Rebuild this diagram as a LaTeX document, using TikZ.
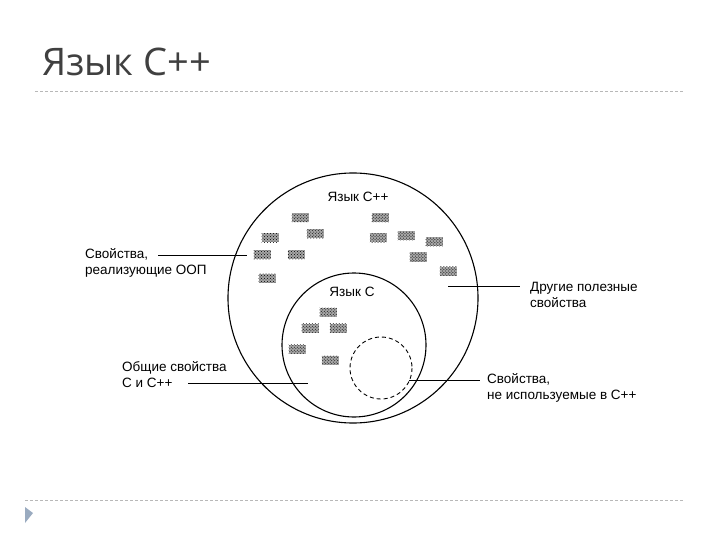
\documentclass[tikz,border=0pt]{standalone}
\usepackage{fontspec}
\setmainfont{Liberation Sans}
\newfontfamily\titlefont{Open Sans}
\usetikzlibrary{patterns}
\definecolor{titlegray}{HTML}{404040}
\definecolor{rulegray}{HTML}{B8B8B8}
\definecolor{markblue}{HTML}{9AABC0}
\tikzset{
  lbl/.style={align=left, anchor=west, font=\fontsize{13.5bp}{16bp}\selectfont, inner sep=0pt},
  ring/.style={draw=black, line width=1.1bp},
  leader/.style={draw=black, line width=0.9bp},
  patch/.style={preaction={fill=black!35}, pattern=crosshatch dots, pattern color=black, minimum width=17bp, minimum height=9bp, inner sep=0pt},
  rulestyle/.style={draw=rulegray, line width=0.8bp, dash pattern=on 3bp off 2bp}
}
\begin{document}
\begin{tikzpicture}[x=1bp,y=-1bp]
\useasboundingbox (0,0) rectangle (720,540);
% title and rules
\node[anchor=base west, inner sep=0pt, text=titlegray, font=\titlefont\fontsize{38bp}{42bp}\selectfont] (title) at (42,76) {Язык С++};
\coordinate (r1a) at (35,91); \coordinate (r1b) at (685,91);
\draw[rulestyle] (r1a) -- (r1b);
\coordinate (r2a) at (25,500); \coordinate (r2b) at (685,500);
\draw[rulestyle] (r2a) -- (r2b);
\fill[markblue] (25,507) -- (33,513) -- (25,523) -- cycle;
% circles
\coordinate (cbig) at (353,298);
\coordinate (csmall) at (354,345);
\coordinate (cdash) at (381,368);
\draw[ring] (cbig) circle[radius=125];
\draw[ring] (csmall) circle[radius=72];
\draw[ring, dashed, line width=0.9bp, dash pattern=on 4bp off 3bp] (cdash) circle[radius=31];
\node[font=\fontsize{13.5bp}{16bp}\selectfont] (lcpp) at (358,197) {Язык С++};
\node[font=\fontsize{13.5bp}{16bp}\selectfont] (lc) at (352,292) {Язык С};
% patches
\foreach \px/\py [count=\i] in {300/218,380/218,270/238,315/234,378/238,406/236,434/242,262/255,296/255,418/257,448/271,267/278,328/312,310/328,338/328,297/349,330/360}
  \node[patch] (p\i) at (\px,\py) {};
% labels
\node[lbl] (t1) at (85,263) {Свойства,\\реализующие ООП};
\coordinate (t1e) at (247,255);
\draw[leader] (158,255) -- (t1e);
\node[lbl] (t2) at (530,295) {Другие полезные\\свойства};
\coordinate (t2s) at (448,286);
\draw[leader] (t2s) -- (520,286);
\node[lbl] (t3) at (122,375) {Общие свойства\\С и С++};
\coordinate (t3e) at (308,383);
\draw[leader] (188,383) -- (t3e);
\node[lbl] (t4) at (487,388) {Свойства,\\не используемые в С++};
\coordinate (t4s) at (409,380);
\draw[leader] (t4s) -- (480,380);
\end{tikzpicture}
\end{document}
